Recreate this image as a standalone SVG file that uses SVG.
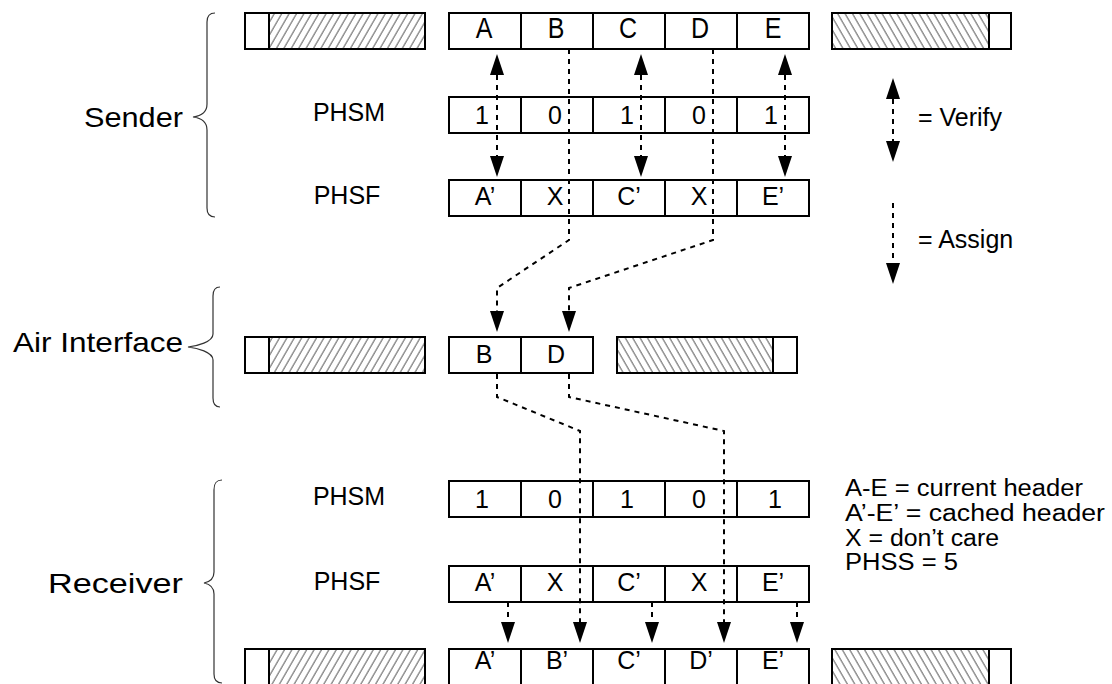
<svg xmlns="http://www.w3.org/2000/svg" width="1112" height="684" viewBox="0 0 1112 684">
<style>
  .box{fill:#fff;stroke:#000;stroke-width:2}
  .hl{fill:url(#hatchL);stroke:#000;stroke-width:2}
  .hr{fill:url(#hatchR);stroke:#000;stroke-width:2}
  .div{stroke:#000;stroke-width:2;fill:none}
  .t{font-family:"Liberation Sans",Arial,sans-serif;fill:#000;text-anchor:middle}
  .c{font-size:25px}
  .lab{font-size:25px}
  .big{font-family:"Liberation Sans",Arial,sans-serif;font-size:28px;fill:#000;text-anchor:end}
  .leg{font-family:"Liberation Sans",Arial,sans-serif;font-size:23px;fill:#000}
  .leg2{font-family:"Liberation Sans",Arial,sans-serif;font-size:25px;fill:#000}
  .dash{fill:none;stroke:#000;stroke-width:2;stroke-dasharray:5 5}
  .brace{fill:none;stroke:#333;stroke-width:1.2}
</style>
<defs>
  <pattern id="hatchL" patternUnits="userSpaceOnUse" width="7.4" height="40" patternTransform="skewX(-30)">
    <line x1="1" y1="-5" x2="1" y2="45" stroke="#444" stroke-width="1"/>
  </pattern>
  <pattern id="hatchR" patternUnits="userSpaceOnUse" width="7.4" height="40" patternTransform="skewX(30)">
    <line x1="1" y1="-5" x2="1" y2="45" stroke="#444" stroke-width="1"/>
  </pattern>
  <marker id="ah" markerUnits="userSpaceOnUse" viewBox="0 0 21 14" refX="0" refY="7" markerWidth="21" markerHeight="14" orient="auto-start-reverse">
    <path d="M0,0 L21,7 L0,14 Z" fill="#000"/>
  </marker>
</defs>

<!-- Braces and group labels -->
<g id="sender-label">
  <path class="brace" d="M215,13 C209,13 207,16 207,22 L207,104 C207,112 201,116 193,117 C201,118 207,122 207,130 L207,208 C207,214 209,217 215,217"/>
  <text class="big" x="183" y="127" textLength="99" lengthAdjust="spacingAndGlyphs">Sender</text>
</g>
<g id="air-label">
  <path class="brace" d="M220,287 C215,287 213,290 213,296 L213,334 C213,342 197,346 188,347 C197,348 213,352 213,360 L213,398 C213,404 215,407 220,407"/>
  <text class="big" x="183" y="352" textLength="170" lengthAdjust="spacingAndGlyphs">Air Interface</text>
</g>
<g id="receiver-label">
  <path class="brace" d="M222,480 C216,480 214,483 214,490 L214,572 C214,579 209,582 204,583 C209,584 214,587 214,594 L214,674 C214,680 216,683 222,683"/>
  <text class="big" x="183" y="593" textLength="135" lengthAdjust="spacingAndGlyphs">Receiver</text>
</g>

<!-- Sender rows -->
<g id="sender-top">
  <rect class="hl" x="245" y="13" width="180" height="36"/>
  <rect class="box" x="245" y="13" width="24" height="36"/>
  <rect class="box" x="449" y="13" width="360" height="36"/>
  <path class="div" d="M521,13V49M593,13V49M665,13V49M737,13V49"/>
  <g class="t c">
    <text transform="translate(484,38) scale(1,1.2)">A</text>
    <text transform="translate(556,38) scale(1,1.2)">B</text>
    <text transform="translate(628,38) scale(1,1.2)">C</text>
    <text transform="translate(700,38) scale(1,1.2)">D</text>
    <text transform="translate(773,38) scale(1,1.2)">E</text>
  </g>
  <rect class="hr" x="832" y="13" width="157" height="36"/>
  <rect class="box" x="989" y="13" width="22" height="36"/>
</g>
<g id="sender-phsm">
  <text class="t lab" x="349" y="121">PHSM</text>
  <rect class="box" x="449" y="97" width="360" height="36"/>
  <path class="div" d="M521,97V133M593,97V133M665,97V133M737,97V133"/>
  <g class="t c">
    <text x="482" y="124">1</text><text x="555" y="124">0</text><text x="627" y="124">1</text><text x="699" y="124">0</text><text x="771" y="124">1</text>
  </g>
</g>
<g id="sender-phsf">
  <text class="t lab" x="347" y="204">PHSF</text>
  <rect class="box" x="449" y="180" width="360" height="36"/>
  <path class="div" d="M521,180V216M593,180V216M665,180V216M737,180V216"/>
  <g class="t c">
    <text x="485" y="205">A’</text><text x="555" y="205">X</text><text x="629" y="205">C’</text><text x="699" y="205">X</text><text x="773" y="205">E’</text>
  </g>
</g>

<!-- Air interface row -->
<g id="air-row">
  <rect class="hl" x="245" y="337" width="180" height="36"/>
  <rect class="box" x="245" y="337" width="24" height="36"/>
  <rect class="box" x="449" y="337" width="144" height="36"/>
  <path class="div" d="M521,337V373"/>
  <g class="t c">
    <text x="484" y="363">B</text>
    <text x="556" y="363">D</text>
  </g>
  <rect class="hr" x="617" y="337" width="156" height="36"/>
  <rect class="box" x="773" y="337" width="24" height="36"/>
</g>

<!-- Receiver rows -->
<g id="receiver-phsm">
  <text class="t lab" x="349" y="505">PHSM</text>
  <rect class="box" x="449" y="481" width="360" height="36"/>
  <path class="div" d="M521,481V517M593,481V517M665,481V517M737,481V517"/>
  <g class="t c">
    <text x="482" y="508">1</text><text x="555" y="508">0</text><text x="627" y="508">1</text><text x="699" y="508">0</text><text x="775" y="508">1</text>
  </g>
</g>
<g id="receiver-phsf">
  <text class="t lab" x="347" y="590">PHSF</text>
  <rect class="box" x="449" y="566" width="360" height="36"/>
  <path class="div" d="M521,566V602M593,566V602M665,566V602M737,566V602"/>
  <g class="t c">
    <text x="485" y="591">A’</text><text x="555" y="591">X</text><text x="629" y="591">C’</text><text x="699" y="591">X</text><text x="773" y="591">E’</text>
  </g>
</g>
<g id="receiver-out">
  <rect class="hl" x="245" y="649" width="180" height="38"/>
  <rect class="box" x="245" y="649" width="24" height="38"/>
  <rect class="box" x="449" y="649" width="360" height="38"/>
  <path class="div" d="M521,649V687M593,649V687M665,649V687M737,649V687"/>
  <g class="t c">
    <text x="485" y="669">A’</text>
    <text x="557" y="669">B’</text>
    <text x="629" y="669">C’</text>
    <text x="701" y="669">D’</text>
    <text x="773" y="669">E’</text>
  </g>
  <rect class="hr" x="832" y="649" width="157" height="38"/>
  <rect class="box" x="989" y="649" width="22" height="38"/>
</g>

<!-- Legend -->
<g id="legend">
  <text class="leg2" x="918" y="126">= Verify</text>
  <text class="leg2" x="918" y="248">= Assign</text>
  <text class="leg" x="845" y="496" textLength="238" lengthAdjust="spacingAndGlyphs">A-E = current header</text>
  <text class="leg" x="845" y="521" textLength="260" lengthAdjust="spacingAndGlyphs">A’-E’ = cached header</text>
  <text class="leg" x="845" y="546" textLength="154" lengthAdjust="spacingAndGlyphs">X = don’t care</text>
  <text class="leg" x="845" y="570" textLength="113" lengthAdjust="spacingAndGlyphs">PHSS = 5</text>
</g>

<!-- Connectors -->
<g id="connectors">
  <path class="dash" d="M497,75V156" marker-start="url(#ah)" marker-end="url(#ah)"/>
  <path class="dash" d="M641,75V156" marker-start="url(#ah)" marker-end="url(#ah)"/>
  <path class="dash" d="M785,75V156" marker-start="url(#ah)" marker-end="url(#ah)"/>
  <path class="dash" d="M569,49V240L497,288V311" marker-end="url(#ah)"/>
  <path class="dash" d="M713,49V240L569,288V311" marker-end="url(#ah)"/>
  <path class="dash" d="M497,374V397L580,431V622" marker-end="url(#ah)"/>
  <path class="dash" d="M569,374V397L724,431V622" marker-end="url(#ah)"/>
  <path class="dash" d="M508,602V622" marker-end="url(#ah)"/>
  <path class="dash" d="M652,602V622" marker-end="url(#ah)"/>
  <path class="dash" d="M797,602V622" marker-end="url(#ah)"/>
  <path class="dash" d="M893,99V141" marker-start="url(#ah)" marker-end="url(#ah)"/>
  <path class="dash" d="M893,203V263" marker-end="url(#ah)"/>
</g>
</svg>
